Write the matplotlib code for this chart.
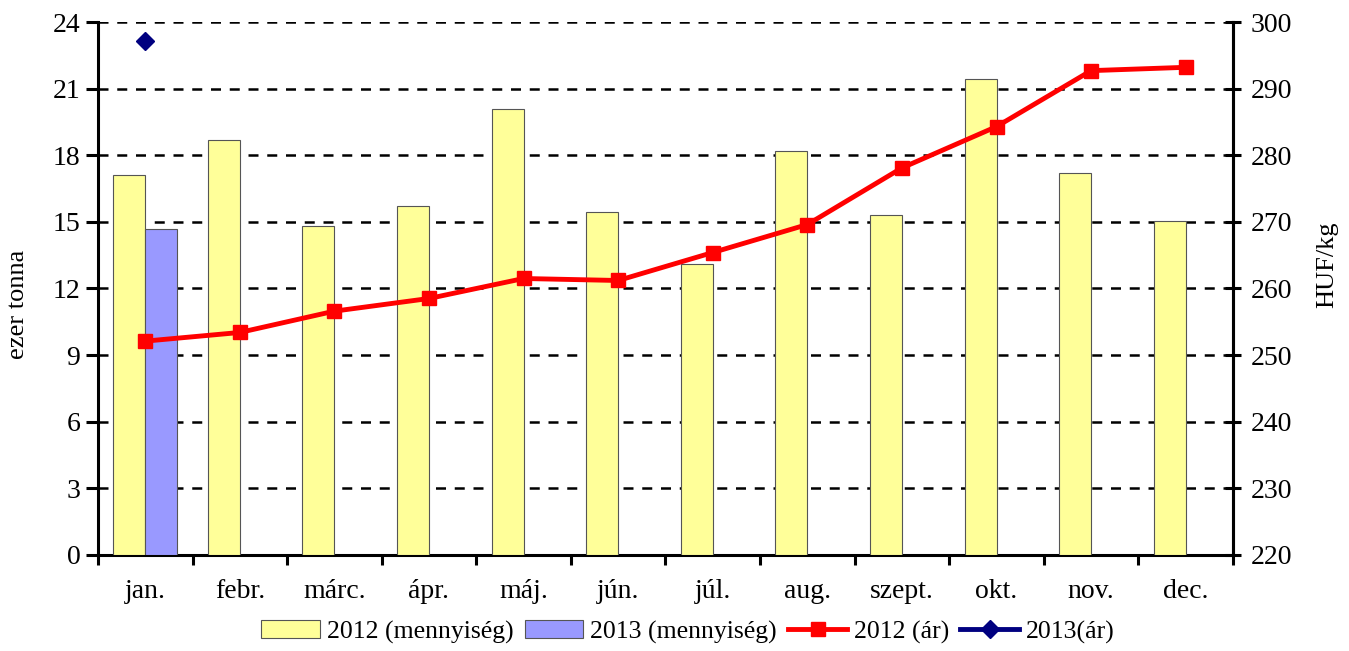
import matplotlib
matplotlib.use('Agg')
import matplotlib.pyplot as plt
import numpy as np

months = ['jan.', 'febr.', 'márc.', 'ápr.', 'máj.', 'jún.', 'júl.', 'aug.',
          'szept.', 'okt.', 'nov.', 'dec.']
qty_2012 = [17.1, 18.7, 14.8, 15.7, 20.1, 15.45, 13.1, 18.2, 15.3, 21.45, 17.2, 15.05]
qty_2013 = [14.7]
price_2012 = [252.1, 253.4, 256.6, 258.5, 261.5, 261.2, 265.4, 269.6, 278.1, 284.3, 292.7, 293.2]
price_2013 = [297.2]

plt.rcParams['font.family'] = ['Liberation Serif', 'DejaVu Serif']
plt.rcParams['font.size'] = 20

fig = plt.figure(figsize=(13.49, 6.51), dpi=100)
ax = fig.add_axes([0.0726, 0.1475, 0.8414, 0.8187])
ax2 = ax.twinx()

x = np.arange(len(months))
w = 0.338
b1 = ax.bar(x - w / 2, qty_2012, w, color='#ffff99', edgecolor='#555555', linewidth=0.8,
            label='2012 (mennyiség)', zorder=3)
b2 = ax.bar(x[:len(qty_2013)] + w / 2, qty_2013, w, color='#9999ff', edgecolor='#555555',
            linewidth=0.8, label='2013 (mennyiség)', zorder=3)

l1, = ax2.plot(x, price_2012, color='#ff0000', linewidth=3.5, marker='s', markersize=10,
               label='2012 (ár)', zorder=4)
l2, = ax2.plot(x[:len(price_2013)], price_2013, color='#000080', linewidth=3.5, marker='D',
               markersize=9, label='2013(ár)', zorder=4)

ax.set_xlim(-0.5, 11.5)
ax.set_ylim(0, 24)
ax.set_yticks(np.arange(0, 25, 3))
ax2.set_ylim(220, 300)
ax2.set_yticks(np.arange(220, 301, 10))

ax.set_xticks(x)
ax.set_xticklabels(months)
ax.set_xticks(np.arange(-0.5, 12, 1), minor=True)
ax.tick_params(axis='x', which='major', length=0, pad=17)
ax.tick_params(axis='x', which='minor', length=7, width=2.2, direction='out')
ax.tick_params(axis='y', length=8.6, width=2.2, direction='out', pad=4)
ax2.tick_params(axis='y', length=11.5, width=2.2, direction='inout', pad=7)

ax.yaxis.grid(True, linestyle=(0, (4, 3.5)), color='black', linewidth=1.8, zorder=0)
ax.set_axisbelow(True)

for a in (ax, ax2):
    a.spines['top'].set_visible(False)
    for s in ('left', 'right', 'bottom'):
        a.spines[s].set_linewidth(2.2)
ax2.spines['left'].set_visible(False)
ax2.spines['bottom'].set_visible(False)

ax.set_ylabel('ezer tonna', fontsize=19)
ax.yaxis.set_label_coords(-0.061, 0.47)
ax2.set_ylabel('HUF/kg', fontsize=19)
ax2.yaxis.set_label_coords(1.073, 0.544)

fig.legend([b1, b2, l1, l2], ['2012 (mennyiség)', '2013 (mennyiség)', '2012 (ár)', '2013(ár)'],
           loc='center', bbox_to_anchor=(0.510, 0.029), ncol=4, frameon=False, fontsize=18.5,
           handlelength=2.27, columnspacing=0.45, handletextpad=0.27)

fig.savefig('out.png', dpi=100)
